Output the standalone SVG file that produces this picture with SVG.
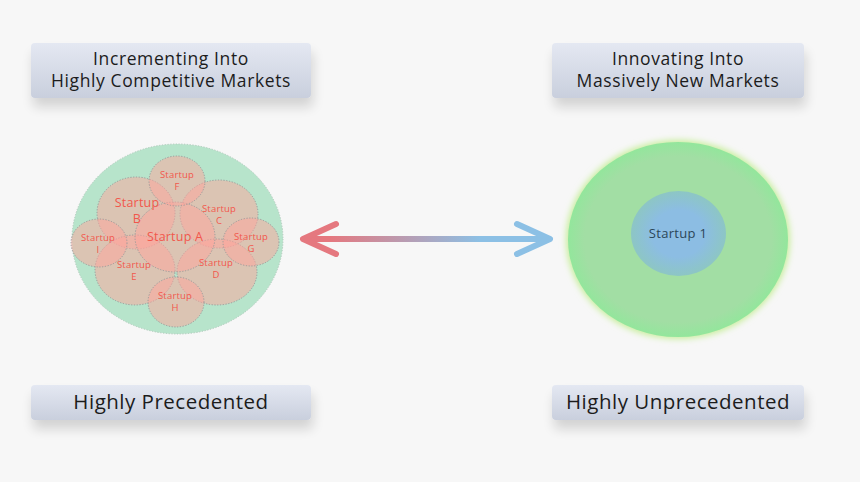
<svg xmlns="http://www.w3.org/2000/svg" width="860" height="482" viewBox="0 0 860 482">
<defs>
<style>
.lbl{font-family:"Open Sans","Noto Sans","DejaVu Sans",sans-serif;fill:#1c1c1c;text-anchor:middle}
.st{font-family:"Open Sans","Noto Sans","DejaVu Sans",sans-serif;fill:#f2574c;text-anchor:middle;font-size:9.5px;letter-spacing:0.2px}
.big{font-size:12.5px}
.stc{fill:#ffa49b;fill-opacity:0.5;stroke:#9a9a9a;stroke-width:1;stroke-dasharray:1.2 1.6}
.box{fill:url(#boxg);filter:url(#sh)}
</style>
<linearGradient id="boxg" x1="0" y1="0" x2="0" y2="1">
<stop offset="0" stop-color="#e4e8f2"/>
<stop offset="1" stop-color="#c9cfdd"/>
</linearGradient>
<filter id="sh" x="-10%" y="-30%" width="120%" height="190%">
<feGaussianBlur in="SourceAlpha" stdDeviation="6"/>
<feOffset dx="2" dy="9" result="b"/>
<feComponentTransfer><feFuncA type="linear" slope="0.15"/></feComponentTransfer>
<feMerge><feMergeNode/><feMergeNode in="SourceGraphic"/></feMerge>
</filter>
<linearGradient id="arrg" gradientUnits="userSpaceOnUse" x1="330" y1="0" x2="480" y2="0">
<stop offset="0" stop-color="#e5787f"/>
<stop offset="1" stop-color="#8cc0e5"/>
</linearGradient>
<radialGradient id="bigg" cx="0.5" cy="0.5" r="0.5">
<stop offset="0.85" stop-color="#a2dea4"/>
<stop offset="1" stop-color="#93e69c"/>
</radialGradient>
<radialGradient id="smallg" cx="0.5" cy="0.5" r="0.5">
<stop offset="0.55" stop-color="#8cbde3"/>
<stop offset="1" stop-color="#8dc6c4"/>
</radialGradient>
<filter id="glow" x="-20%" y="-20%" width="140%" height="140%">
<feGaussianBlur stdDeviation="3"/>
</filter>
</defs>
<rect width="860" height="482" fill="#f7f7f7"/>

<g id="label-incrementing">
<rect class="box" x="31" y="43" width="280" height="55" rx="4"/>
<text class="lbl" x="171" y="65" font-size="17.5" letter-spacing="0.6">Incrementing Into</text>
<text class="lbl" x="171" y="87" font-size="17.5" letter-spacing="0.6">Highly Competitive Markets</text>
</g>
<g id="label-innovating">
<rect class="box" x="552" y="43" width="252" height="55" rx="4"/>
<text class="lbl" x="678" y="65" font-size="17.5" letter-spacing="0.6">Innovating Into</text>
<text class="lbl" x="678" y="87" font-size="17.5" letter-spacing="0.6">Massively New Markets</text>
</g>
<g id="label-precedented">
<rect class="box" x="31" y="385" width="280" height="35" rx="4"/>
<text class="lbl" x="171" y="409" font-size="20.5" letter-spacing="0.5">Highly Precedented</text>
</g>
<g id="label-unprecedented">
<rect class="box" x="552" y="385" width="252" height="35" rx="4"/>
<text class="lbl" x="678" y="409" font-size="20.5" letter-spacing="0.5">Highly Unprecedented</text>
</g>

<g id="market-competitive">
<ellipse cx="177.5" cy="239" rx="105.5" ry="95" fill="#b7e4cb" stroke="#b0c9bb" stroke-width="1" stroke-dasharray="1.2 1.6"/>
<g id="startup-b"><ellipse class="stc" cx="136" cy="213" rx="39" ry="36"/></g>
<g id="startup-c"><ellipse class="stc" cx="219" cy="214" rx="39" ry="34"/></g>
<g id="startup-e"><ellipse class="stc" cx="135" cy="270" rx="40" ry="35"/></g>
<g id="startup-d"><ellipse class="stc" cx="217" cy="272" rx="40" ry="33"/></g>
<g id="startup-a"><ellipse class="stc" cx="175" cy="237" rx="40" ry="35"/></g>
<g id="startup-f"><ellipse class="stc" cx="177" cy="181" rx="28" ry="25"/></g>
<g id="startup-i"><ellipse class="stc" cx="99" cy="243" rx="28" ry="24"/></g>
<g id="startup-g"><ellipse class="stc" cx="251" cy="242" rx="28" ry="24"/></g>
<g id="startup-h"><ellipse class="stc" cx="176" cy="302" rx="28" ry="25"/></g>
<text class="st" x="177" y="177.5">Startup</text><text class="st" x="177" y="189.5">F</text>
<text class="st big" x="137" y="207">Startup</text><text class="st big" x="137" y="223">B</text>
<text class="st" x="219" y="212">Startup</text><text class="st" x="219" y="224">C</text>
<text class="st big" x="175" y="240.5">Startup A</text>
<text class="st" x="98" y="240.5">Startup</text><text class="st" x="98" y="252.5">I</text>
<text class="st" x="251" y="239.5">Startup</text><text class="st" x="251" y="251.5">G</text>
<text class="st" x="134" y="267.5">Startup</text><text class="st" x="134" y="279.5">E</text>
<text class="st" x="216" y="265.5">Startup</text><text class="st" x="216" y="277.5">D</text>
<text class="st" x="175" y="298.5">Startup</text><text class="st" x="175" y="310.5">H</text>
</g>

<g id="market-new">
<ellipse cx="678" cy="239.5" rx="112" ry="99.5" fill="#c8ee9c" filter="url(#glow)"/>
<ellipse cx="678" cy="239.5" rx="110" ry="97.5" fill="url(#bigg)"/>
<g id="startup-1">
<ellipse cx="678.5" cy="233.5" rx="47.5" ry="42.5" fill="url(#smallg)"/>
<text class="lbl" x="678" y="238" font-size="13" letter-spacing="0.3" style="fill:#2b4658">Startup 1</text>
</g>
</g>

<g id="connectors" fill="none" stroke-linecap="round" stroke-linejoin="round" stroke-width="6">
<line x1="306" y1="239" x2="547" y2="239" stroke="url(#arrg)"/>
<polyline points="336,224 303,239 336,254" stroke="#e5787f"/>
<polyline points="517,224 550,239 517,254" stroke="#8cc0e5"/>
</g>
</svg>
